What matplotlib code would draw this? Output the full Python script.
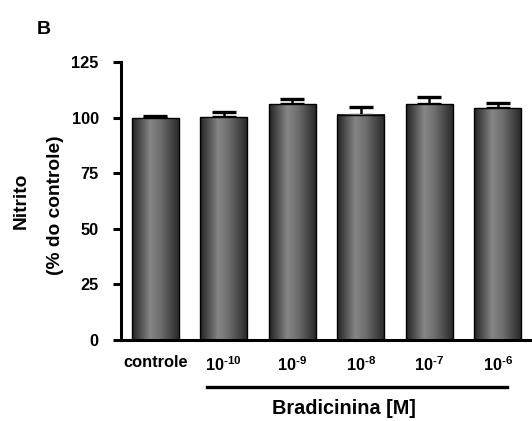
import numpy as np
import matplotlib.pyplot as plt
from matplotlib.colors import LinearSegmentedColormap
from matplotlib.transforms import blended_transform_factory

plt.rcParams['font.family'] = 'Liberation Sans'
plt.rcParams['font.weight'] = 'bold'
plt.rcParams['mathtext.fontset'] = 'custom'
plt.rcParams['mathtext.rm'] = 'Liberation Sans:bold'
plt.rcParams['mathtext.bf'] = 'Liberation Sans:bold'

# dados
grupos = ['controle', '$10^{\u201010}$', '$10^{\u20109}$', '$10^{\u20108}$',
          '$10^{\u20107}$', '$10^{\u20106}$']
nitrito = [99.6, 100.2, 106.0, 101.3, 106.0, 104.2]
erro = [1.1, 2.1, 2.4, 3.5, 3.3, 2.2]
yticks = [0, 25, 50, 75, 100, 125]

fig = plt.figure(figsize=(5.32, 4.21), dpi=100)
ax = fig.add_axes([121 / 532, 81 / 421, 1 - 121 / 532, 278 / 421])

# degrade horizontal das barras
cmap = LinearSegmentedColormap.from_list(
    'barra', [(0, '#222222'), (0.38, '#868686'), (0.6, '#6e6e6e'), (1, '#262626')])
grad = np.linspace(0, 1, 256).reshape(1, -1)
largura = 0.69
x = np.arange(len(grupos))
for xi, v in zip(x, nitrito):
    ax.imshow(grad, cmap=cmap, aspect='auto', interpolation='bilinear',
              extent=[xi - largura / 2, xi + largura / 2, 0, v], zorder=2)
ax.bar(x, nitrito, width=largura, facecolor='none', edgecolor='black',
       linewidth=1.0, zorder=3)
ax.errorbar(x, nitrito, yerr=[np.zeros(len(erro)), erro], fmt='none',
            ecolor='black', elinewidth=1.8, capsize=8.3, capthick=2.4, zorder=1)

ax.set_xlim(-0.5, 5.5)
ax.set_ylim(0, 125)
ax.set_yticks(yticks)
ax.set_xticks(x)
ax.set_xticklabels(grupos, fontsize=11.8, fontweight='bold')
ax.tick_params(axis='x', length=0, pad=11)
ax.tick_params(axis='y', length=6, width=2.2, pad=10, labelsize=11.8)
for s in ['top', 'right']:
    ax.spines[s].set_visible(False)
ax.spines['left'].set_linewidth(2.2)
ax.spines['bottom'].set_linewidth(2.2)

trans = blended_transform_factory(ax.transData, ax.transAxes)
ax.plot([0.753, 5.14], [-0.169, -0.169], color='black', linewidth=2.4,
        transform=trans, clip_on=False)
ax.text(2.76, -0.245, 'Bradicinina [M]', transform=trans, ha='center',
        va='center', fontsize=14.3, fontweight='bold')

fig.text(21 / 532, 1 - 201 / 421, 'Nitrito', rotation=90, ha='center',
         va='center', fontsize=13.8, fontweight='bold')
fig.text(56 / 532, 1 - 205 / 421, '(% do controle)', rotation=90, ha='center',
         va='center', fontsize=13.8, fontweight='bold')
fig.text(37 / 532, 1 - 21 / 421, 'B', ha='left', va='top', fontsize=14,
         fontweight='bold')

fig.savefig('out.png', dpi=100)
